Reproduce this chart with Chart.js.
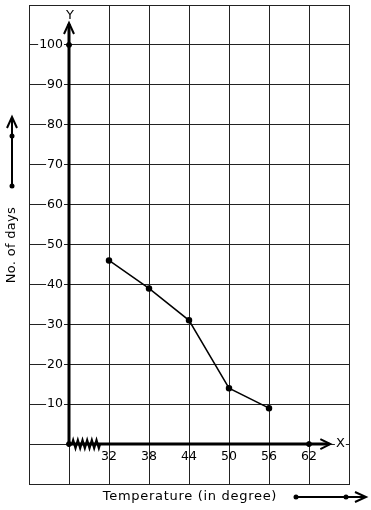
<!DOCTYPE html>
<html>
<head>
<meta charset="utf-8">
<script src="https://cdn.jsdelivr.net/npm/chart.js@4/dist/chart.umd.min.js"></script>
<style>
  html, body { margin: 0; padding: 0; background: #fff; }
  canvas { display: block; }
</style>
</head>
<body>
<canvas id="chart" width="371" height="510"></canvas>
<script>
// Temperature vs number of days
const temps = [32, 38, 44, 50, 56];
const days = [46, 39, 31, 14, 9];

// Tick labels
const xTickLabels = [32, 38, 44, 50, 56, 62];
const yTickLabels = [10, 20, 30, 40, 50, 60, 70, 80, 90, 100];

// Dots that sit on the axes
const axisDotX = [26, 26, 62];
const axisDotY = [100, 0, 0];

const FONT = '12.5px "DejaVu Sans", sans-serif';
const TITLE_FONT = '13px "DejaVu Sans", sans-serif';

// Labels, axes, arrows, zigzag
const decorPlugin = {
    id: 'decor',
    beforeDatasetsDraw(chart) {
        const ctx = chart.ctx;
        const xs = chart.scales.x;
        const ys = chart.scales.y;
        const ox = xs.getPixelForValue(26);
        const oy = ys.getPixelForValue(0);
        const yTip = ys.getPixelForValue(105.5);
        const xTip = xs.getPixelForValue(65.2);

        ctx.save();
        // clear the grid line above the y arrow, where the Y letter sits
        ctx.fillStyle = '#fff';
        ctx.fillRect(ox - 6, chart.chartArea.top + 1, 12, yTip - chart.chartArea.top - 1);

        ctx.strokeStyle = '#000';
        ctx.lineWidth = 3;
        ctx.beginPath();
        ctx.moveTo(ox, oy);
        ctx.lineTo(ox, yTip + 1);
        ctx.moveTo(ox, oy);
        ctx.lineTo(xTip - 1, oy);
        ctx.stroke();

        // arrow heads
        ctx.lineWidth = 2;
        ctx.beginPath();
        ctx.moveTo(ox - 5, yTip + 11);
        ctx.lineTo(ox, yTip);
        ctx.lineTo(ox + 5, yTip + 11);
        ctx.moveTo(xTip - 10, oy - 5);
        ctx.lineTo(xTip, oy);
        ctx.lineTo(xTip - 10, oy + 5);
        ctx.stroke();

        // zigzag (broken scale)
        ctx.lineWidth = 2.2;
        ctx.beginPath();
        const z0 = ox + 3, z1 = ox + 31;
        const n = 6;
        ctx.moveTo(z0, oy);
        for (let i = 0; i < n; i++) {
            const step = (z1 - z0) / n;
            ctx.lineTo(z0 + step * (i + 0.25), oy - 4);
            ctx.lineTo(z0 + step * (i + 0.75), oy + 4);
        }
        ctx.lineTo(z1, oy);
        ctx.stroke();
        ctx.restore();
    },
    afterDraw(chart) {
        const ctx = chart.ctx;
        const xs = chart.scales.x;
        const ys = chart.scales.y;
        ctx.save();
        ctx.font = FONT;
        ctx.fillStyle = '#000';

        // y tick labels, over the grid with a white box
        ctx.textBaseline = 'middle';
        ctx.textAlign = 'right';
        const yRight = xs.getPixelForValue(26) - 6;
        yTickLabels.forEach(v => {
            const py = ys.getPixelForValue(v);
            const t = String(v);
            const w = ctx.measureText(t).width;
            ctx.fillStyle = '#fff';
            ctx.fillRect(yRight - w - 1, py - 6, w + 2, 12);
            ctx.fillStyle = '#000';
            ctx.fillText(t, yRight, py);
        });

        // x tick labels
        ctx.textAlign = 'center';
        const oy = ys.getPixelForValue(0);
        xTickLabels.forEach(v => {
            ctx.fillText(String(v), xs.getPixelForValue(v), oy + 13);
        });

        // axis letters
        ctx.font = TITLE_FONT;
        const xLetter = xs.getPixelForValue(66.7);
        const wX = ctx.measureText('X').width;
        ctx.fillStyle = '#fff';
        ctx.fillRect(xLetter - wX / 2 - 1, oy - 6, wX + 2, 12);
        ctx.fillStyle = '#000';
        ctx.fillText('X', xLetter, oy);
        ctx.fillText('Y', xs.getPixelForValue(26) + 1, ys.getPixelForValue(107.3));

        // axis titles
        ctx.letterSpacing = '0.7px';
        ctx.fillText('Temperature (in degree)', 190, 496.5);
        ctx.letterSpacing = '0.3px';
        ctx.save();
        ctx.translate(12, 245);
        ctx.rotate(-Math.PI / 2);
        ctx.fillText('No. of days', 0, 0);
        ctx.restore();
        ctx.letterSpacing = '0px';

        // side arrows
        ctx.strokeStyle = '#000';
        ctx.lineWidth = 2;
        ctx.beginPath();
        ctx.moveTo(12, 186);
        ctx.lineTo(12, 118);
        ctx.moveTo(7, 128);
        ctx.lineTo(12, 117);
        ctx.lineTo(17, 128);
        ctx.moveTo(296, 497);
        ctx.lineTo(364, 497);
        ctx.moveTo(355, 492);
        ctx.lineTo(366, 497);
        ctx.lineTo(355, 502);
        ctx.stroke();
        [[12, 186], [12, 136], [296, 497], [346, 497]].forEach(p => {
            ctx.beginPath();
            ctx.arc(p[0], p[1], 2.5, 0, Math.PI * 2);
            ctx.fill();
        });
        ctx.restore();
    }
};

const lineData = temps.map((t, i) => ({ x: t, y: days[i] }));
const dotData = axisDotX.map((t, i) => ({ x: t, y: axisDotY[i] }));

new Chart(document.getElementById('chart'), {
    type: 'scatter',
    data: {
        datasets: [
            {
                data: lineData,
                showLine: true,
                borderColor: '#000',
                backgroundColor: '#000',
                borderWidth: 1.5,
                pointRadius: 2.5,
                pointHoverRadius: 2.5
            },
            {
                data: dotData,
                showLine: false,
                borderColor: '#000',
                backgroundColor: '#000',
                pointRadius: 2.5
            }
        ]
    },
    options: {
        responsive: false,
        animation: false,
        events: [],
        layout: { padding: { left: 29, right: 22, top: 4, bottom: 26 } },
        plugins: {
            legend: { display: false },
            tooltip: { enabled: false }
        },
        scales: {
            x: {
                type: 'linear',
                min: 20,
                max: 68,
                ticks: { display: false, stepSize: 6 },
                grid: { color: '#222', lineWidth: 1, drawTicks: false },
                border: { display: true, color: '#222', width: 1 }
            },
            y: {
                type: 'linear',
                min: -10,
                max: 110,
                ticks: { display: false, stepSize: 10 },
                grid: { color: '#222', lineWidth: 1, drawTicks: false },
                border: { display: true, color: '#222', width: 1 }
            }
        }
    },
    plugins: [decorPlugin]
});
</script>
</body>
</html>
